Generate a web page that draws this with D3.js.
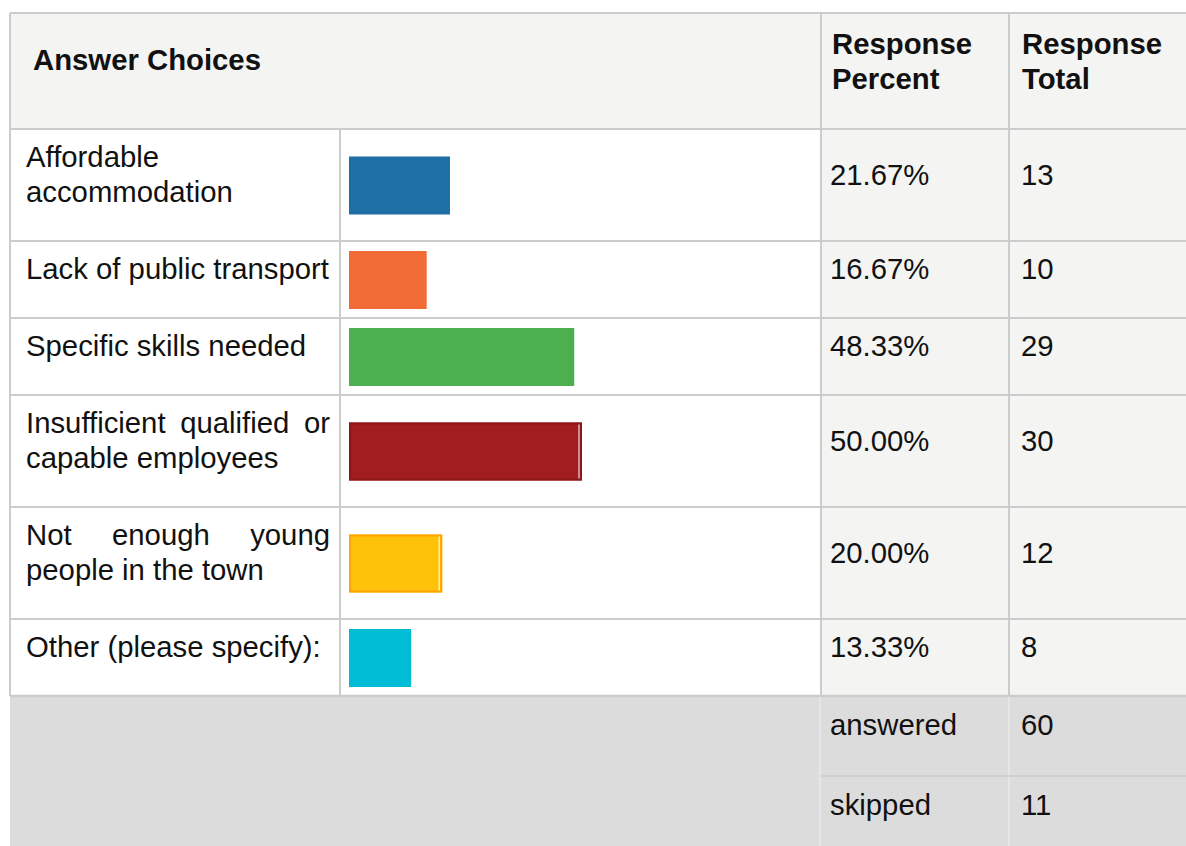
<!DOCTYPE html>
<html>
<head>
<meta charset="utf-8">
<script src="https://cdn.jsdelivr.net/npm/d3@7"></script>
<style>
  html, body { margin: 0; padding: 0; background: #ffffff; }
  svg { display: block; }
  text { font-family: "Liberation Sans", Arial, sans-serif; fill: #111; }
</style>
</head>
<body>
<svg id="chart" width="1186" height="846"></svg>
<script>
// ---- data ----
const categories = [
  "Affordable accommodation",
  "Lack of public transport",
  "Specific skills needed",
  "Insufficient qualified or capable employees",
  "Not enough young people in the town",
  "Other (please specify):"
];
const percents = [21.67, 16.67, 48.33, 50.00, 20.00, 13.33];
const totals = [13, 10, 29, 30, 12, 8];
const barColors = ["#1d6fa5", "#f16b36", "#4cb050", "#a21d20", "#ffc20a", "#00bdd5"];
const barOutline = [null, null, null, "#8e1518", "#ffa400", null];
const headers = ["Answer Choices", "Response Percent", "Response Total"];
const summaryLabels = ["answered", "skipped"];
const summaryValues = [60, 11];

// ---- layout ----
const svg = d3.select("#chart");
const W = 1186, H = 846;
const tLeft = 10, tTop = 13;
const colBar = 340, colPct = 821, colTot = 1009, tRight = 1190;
const headerBottom = 129;
const fontSize = 29.3, lineH = 35;
const labelX = 26, labelW = 304;
const gridColor = "#cccccc";

// measure helper for wrapping
const meas = svg.append("text").attr("font-size", fontSize).attr("x", -1000).attr("y", -1000);
function textW(s) { meas.text(s); return meas.node().getComputedTextLength(); }
function wrap(s, maxW) {
  const words = s.split(" ");
  const lines = [];
  let cur = [];
  words.forEach(w => {
    const trial = cur.concat([w]).join(" ");
    if (cur.length && textW(trial) > maxW + 2) { lines.push(cur); cur = [w]; }
    else cur.push(w);
  });
  if (cur.length) lines.push(cur);
  return lines;
}
const wrapped = categories.map(c => wrap(c, labelW));
meas.remove();

// row geometry
const rowTops = [];
let yy = headerBottom;
wrapped.forEach(lines => { rowTops.push(yy); yy += 42 + lines.length * lineH; });
const dataBottom = yy;
const sumH = 80;
const sumTops = summaryLabels.map((_, i) => dataBottom + i * sumH);

const x = d3.scaleLinear().domain([0, 100]).range([349, 815]);
const barH = 58;

// ---- backgrounds ----
svg.append("rect").attr("x", tLeft).attr("y", tTop).attr("width", tRight - tLeft).attr("height", headerBottom - tTop).attr("fill", "#f4f4f3");
wrapped.forEach((lines, i) => {
  const h = 42 + lines.length * lineH;
  svg.append("rect").attr("x", tLeft).attr("y", rowTops[i]).attr("width", colPct - tLeft).attr("height", h).attr("fill", "#ffffff");
  svg.append("rect").attr("x", colPct).attr("y", rowTops[i]).attr("width", tRight - colPct).attr("height", h).attr("fill", "#f4f4f3");
});
svg.append("rect").attr("x", tLeft).attr("y", dataBottom).attr("width", tRight - tLeft).attr("height", H - dataBottom + 20).attr("fill", "#dcdcdc");

// ---- grid lines ----
const g = svg.append("g").attr("stroke", gridColor).attr("stroke-width", 2);
[tTop, headerBottom].concat(rowTops.slice(1)).forEach(yv => {
  g.append("line").attr("x1", tLeft).attr("x2", tRight).attr("y1", yv).attr("y2", yv);
});
g.append("line").attr("x1", tLeft).attr("x2", tRight).attr("y1", dataBottom).attr("y2", dataBottom).attr("stroke-width", 2.5);
g.append("line").attr("x1", tLeft).attr("x2", tLeft).attr("y1", tTop).attr("y2", dataBottom);
g.append("line").attr("x1", colBar).attr("x2", colBar).attr("y1", headerBottom).attr("y2", dataBottom);
[colPct, colTot].forEach(xv => {
  g.append("line").attr("x1", xv).attr("x2", xv).attr("y1", tTop).attr("y2", dataBottom);
});
const g2 = svg.append("g").attr("stroke", "#e6e6e6").attr("stroke-width", 2);
g2.append("line").attr("x1", colPct - 1).attr("x2", colPct - 1).attr("y1", dataBottom + 1).attr("y2", H);
g2.append("line").attr("x1", colTot).attr("x2", colTot).attr("y1", dataBottom + 1).attr("y2", H);
sumTops.slice(1).forEach(yv => {
  g2.append("line").attr("x1", colPct).attr("x2", tRight).attr("y1", yv).attr("y2", yv).attr("stroke", "#d0d0d0");
});

// ---- header text ----
svg.append("text").attr("x", 33).attr("y", 70).attr("font-size", fontSize).attr("font-weight", "bold").text(headers[0]);
[[headers[1], 832], [headers[2], 1022]].forEach(([h, xv]) => {
  const t = svg.append("text").attr("x", xv).attr("y", 54).attr("font-size", fontSize).attr("font-weight", "bold");
  h.split(" ").forEach((w, i) => {
    t.append("tspan").attr("x", xv).attr("y", 54 + i * 35).text(w);
  });
});

// ---- label text (justified like the source) ----
wrapped.forEach((lines, i) => {
  lines.forEach((words, li) => {
    const yb = rowTops[i] + 38 + li * lineH;
    const isLast = li === lines.length - 1;
    if (isLast || words.length < 2) {
      svg.append("text").attr("x", labelX).attr("y", yb).attr("font-size", fontSize).text(words.join(" "));
    } else {
      const t = svg.append("text").attr("y", yb).attr("font-size", fontSize);
      const spans = words.map(w => t.append("tspan").text(w));
      const widths = spans.map(s => s.node().getComputedTextLength());
      const gap = (labelW - d3.sum(widths)) / (words.length - 1);
      let cx = labelX;
      spans.forEach((s, k) => { s.attr("x", cx); cx += widths[k] + gap; });
    }
  });
});

// ---- bars ----
percents.forEach((p, i) => {
  const h = 42 + wrapped[i].length * lineH;
  const cy = rowTops[i] + h / 2;
  const x0 = x(0), x1 = x(p);
  svg.append("rect").attr("x", x0).attr("y", cy - barH / 2 + 0.5).attr("width", x1 - x0).attr("height", barH)
    .attr("fill", barColors[i]);
  if (barOutline[i]) {
    svg.append("rect").attr("x", x0 + 1).attr("y", cy - barH / 2 + 1.5).attr("width", x1 - x0 - 2).attr("height", barH - 2)
      .attr("fill", "none").attr("stroke", barOutline[i]).attr("stroke-width", 2);
    svg.append("line").attr("x1", x1 - 3).attr("x2", x1 - 3).attr("y1", cy - barH / 2 + 2.5).attr("y2", cy + barH / 2 - 1.5)
      .attr("stroke", "#ffffff").attr("stroke-width", 1);
  }
});

// ---- percent / total ----
const fmt = d3.format(".2f");
percents.forEach((p, i) => {
  const yb = rowTops[i] + 38 + (wrapped[i].length - 1) * lineH / 2;
  svg.append("text").attr("x", 830).attr("y", yb).attr("font-size", fontSize).text(fmt(p) + "%");
  svg.append("text").attr("x", 1021).attr("y", yb).attr("font-size", fontSize).text(totals[i]);
});

// ---- summary ----
summaryLabels.forEach((s, i) => {
  const yb = sumTops[i] + 39;
  svg.append("text").attr("x", 830).attr("y", yb).attr("font-size", fontSize).text(s);
  svg.append("text").attr("x", 1021).attr("y", yb).attr("font-size", fontSize).text(summaryValues[i]);
});
</script>
</body>
</html>
